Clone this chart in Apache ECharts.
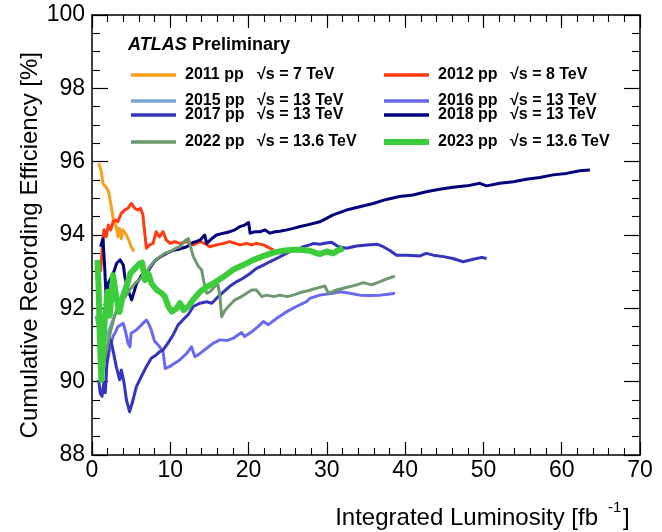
<!DOCTYPE html>
<html>
<head>
<meta charset="utf-8">
<script src="https://cdn.jsdelivr.net/npm/echarts@6/dist/echarts.min.js"></script>
<style>
  html, body { margin: 0; padding: 0; background: #fff; }
  #chart { width: 662px; height: 532px; }
</style>
</head>
<body>
<div id="chart"></div>
<script>
// Cumulative recording efficiency vs integrated luminosity, per data-taking year
const lumi2011 = [0.86,1.19,1.4,1.6,1.8,2.1,2.47,2.77,3.1,3.32,3.53,3.75,3.96,4.4,4.7,5.0,5.36];
const eff2011  = [95.96,95.73,95.4,95.45,95.3,95.2,94.77,94.36,94.23,93.95,94.18,93.9,94.14,94.0,93.86,93.68,93.55];

const lumi2012 = [1.1,1.3,1.53,1.8,2.1,2.4,2.68,2.98,3.3,3.74,4.17,4.6,5.02,5.45,5.85,6.2,6.5,6.94,7.37,7.8,8.2,8.6,9.07,9.5,10.0,10.56,11.2,12.1,12.94,13.8,14.4,15.07,15.9,16.77,17.6,18.3,18.9,19.76,20.4,21.0,21.9,22.7,23.2];
const eff2012  = [93.0,93.6,94.14,93.95,94.27,94.14,94.36,94.41,94.36,94.59,94.68,94.73,94.86,94.73,94.68,94.73,94.55,93.64,93.73,93.77,94.09,93.95,94.09,93.86,93.77,93.82,93.77,93.82,93.73,93.82,93.77,93.68,93.73,93.77,93.82,93.77,93.73,93.77,93.73,93.77,93.73,93.64,93.59];

const lumi2015 = [0.5,1.0,1.5,2.0,2.5,3.0,3.5,3.9];
const eff2015  = [91.8,91.3,91.0,91.3,91.6,91.85,92.1,92.2];

const lumi2016 = [1.9,2.26,2.68,3.0,3.32,3.7,4.0,4.3,4.6,4.85,5.0,5.66,6.1,6.5,6.94,7.2,7.57,8.0,8.65,9.07,9.36,9.9,10.56,11.2,11.84,12.1,12.7,13.15,13.8,14.65,15.5,16.35,17.2,18.0,19.1,19.5,20.4,21.2,21.9,22.5,23.6,24.9,26.1,27.4,27.8,29.1,30.8,31.7,32.95,34.2,35.5,36.8,37.6,38.7];
const eff2016  = [90.5,90.86,91.23,91.35,91.5,91.55,91.59,91.35,91.05,90.95,91.32,91.41,91.5,91.59,91.68,91.6,91.41,91.1,90.95,90.82,90.36,90.41,90.5,90.59,90.72,90.77,90.95,90.68,90.77,90.91,91.05,91.14,91.12,91.18,91.34,91.23,91.36,91.5,91.64,91.55,91.73,91.91,92.05,92.18,92.27,92.36,92.41,92.45,92.41,92.36,92.35,92.36,92.38,92.41];

const lumi2017 = [0.85,1.06,1.28,1.5,1.7,1.88,2.13,2.4,2.68,3.1,3.54,3.75,4.1,4.4,4.8,5.24,5.66,6.3,6.94,7.57,8.2,8.65,9.07,9.7,10.35,11.0,11.6,12.26,12.94,13.8,14.65,15.3,15.9,16.8,17.6,18.5,19.3,20.2,21.0,21.9,22.7,23.6,24.4,25.3,26.1,27.0,27.8,28.3,29.1,29.9,30.6,31.0,31.5,32.5,33.8,35.1,36.4,37.2,38.1,38.9,40.2,41.9,42.7,43.6,44.9,46.1,47.4,48.7,49.8,50.4];
const eff2017  = [90.05,89.68,89.6,89.96,89.7,90.41,91.05,91.14,90.86,90.41,90.05,90.32,89.96,89.5,89.18,89.5,89.86,90.14,90.41,90.64,90.73,90.82,90.86,91.05,91.27,91.55,91.68,91.82,92.05,92.14,92.18,92.14,92.27,92.45,92.6,92.73,92.82,92.95,93.09,93.18,93.27,93.36,93.45,93.55,93.59,93.68,93.73,93.77,93.75,93.78,93.8,93.75,93.68,93.64,93.7,93.73,93.75,93.68,93.57,93.45,93.45,93.43,93.5,93.45,93.41,93.36,93.27,93.34,93.39,93.36];

const lumi2018 = [1.1,1.4,1.6,1.8,2.1,2.5,2.8,3.15,3.6,4.0,4.2,4.6,5.07,5.7,6.35,7.0,7.4,8.05,8.7,9.5,10.4,11.24,12.1,12.94,13.8,14.4,14.65,15.3,15.9,16.8,17.6,18.26,18.9,19.5,20.0,20.2,20.8,21.5,22.1,22.7,23.4,24.0,24.9,25.7,26.6,27.4,29.1,30.8,32.5,34.2,35.9,37.6,39.3,41.0,42.7,44.4,46.1,47.9,49.55,50.4,52.1,53.8,55.5,57.2,58.9,60.6,62.3,63.6];
const eff2018  = [93.68,93.9,93.2,92.32,92.7,92.86,93.0,93.23,93.32,93.18,92.86,92.5,92.23,92.68,92.9,92.96,93.1,93.3,93.4,93.5,93.58,93.62,93.68,93.8,93.86,94.0,93.77,93.9,94.0,94.05,94.09,94.14,94.23,94.27,94.34,94.05,94.09,94.09,94.14,94.05,94.09,94.1,94.14,94.18,94.23,94.27,94.36,94.55,94.68,94.77,94.86,94.97,95.05,95.09,95.18,95.25,95.3,95.34,95.41,95.34,95.41,95.45,95.52,95.57,95.64,95.68,95.75,95.77];

const lumi2022 = [1.3,1.6,2.0,2.4,2.98,3.6,4.25,4.8,5.5,6.13,6.8,7.4,8.0,8.7,9.3,10.0,10.8,11.24,11.9,12.3,12.55,12.94,13.6,14.0,14.4,14.65,15.07,15.7,16.1,16.35,16.56,17.0,17.6,18.26,19.1,19.76,20.4,21.0,21.7,22.3,23.2,24.0,24.9,25.7,26.6,27.6,28.7,29.75,30.2,31.25,32.5,33.8,34.65,35.7,36.8,37.6,38.7];
const eff2022  = [90.2,90.6,91.0,91.4,91.86,92.2,92.32,92.5,92.68,92.8,92.95,93.14,93.3,93.41,93.5,93.55,93.65,93.68,93.85,93.9,93.95,93.41,93.14,93.05,92.6,92.41,92.45,92.6,92.64,92.32,91.77,91.95,92.09,92.23,92.32,92.41,92.5,92.5,92.32,92.36,92.32,92.36,92.32,92.36,92.43,92.48,92.55,92.61,92.41,92.5,92.57,92.64,92.7,92.64,92.73,92.8,92.88];

const lumi2023 = [0.7,0.85,1.0,1.19,1.4,1.6,2.0,2.26,2.7,3.1,3.5,3.9,4.4,4.9,5.5,6.13,6.4,6.77,7.2,7.6,8.26,8.9,9.3,9.75,10.2,10.8,11.24,11.7,12.3,12.9,13.8,14.65,15.5,16.8,18.0,19.3,20.6,21.9,23.2,24.4,25.7,26.6,27.8,28.5,29.1,30.0,30.8,31.4,32.1];
const eff2023  = [93.32,92.5,91.2,90.05,90.9,91.6,92.45,91.8,92.9,92.3,91.9,92.3,92.6,92.95,93.09,93.23,93.25,92.77,92.95,92.68,92.5,92.41,92.32,92.05,91.91,92.0,92.14,91.95,92.05,92.23,92.45,92.59,92.68,92.86,93.05,93.18,93.32,93.43,93.52,93.57,93.6,93.6,93.57,93.52,93.48,93.55,93.5,93.58,93.64];

// Legend text
const yearLabels   = ['2011 pp','2012 pp','2015 pp','2016 pp','2017 pp','2018 pp','2022 pp','2023 pp'];
const energyLabels = ['\u221As = 7 TeV','\u221As = 8 TeV','\u221As = 13 TeV','\u221As = 13 TeV','\u221As = 13 TeV','\u221As = 13 TeV','\u221As = 13.6 TeV','\u221As = 13.6 TeV'];

const xTicks = { min: 0, max: 70, interval: 10 };
const yTicks = { min: 88, max: 100, interval: 2 };

const FONT = '"Liberation Sans", Arial, Helvetica, sans-serif';

const runs = [
  { x: lumi2011, y: eff2011, color: '#f7a01c', width: 3 },
  { x: lumi2012, y: eff2012, color: '#ff3b10', width: 3 },
  { x: lumi2015, y: eff2015, color: '#79a7d3', width: 3 },
  { x: lumi2016, y: eff2016, color: '#6a6aee', width: 3 },
  { x: lumi2017, y: eff2017, color: '#3434bc', width: 3 },
  { x: lumi2018, y: eff2018, color: '#03037e', width: 3 },
  { x: lumi2022, y: eff2022, color: '#6d9a6d', width: 3 },
  { x: lumi2023, y: eff2023, color: '#3ccc3c', width: 6 }
];

const series = runs.map((r, i) => ({
  type: 'line',
  name: yearLabels[i],
  data: r.x.map((v, k) => [v, r.y[k]]),
  showSymbol: false,
  symbol: 'none',
  lineStyle: { color: r.color, width: r.width, join: 'round' },
  itemStyle: { color: r.color },
  z: 2 + i,
  silent: true
}));

// Legend block: two columns of sample lines with year and energy labels
const rowY = [75, 75, 101, 101, 115, 115, 142, 142];
const colLineX = [131, 384];
const colYearX = [185, 438];
const colEnergyX = [257, 510];
const legendGraphics = [];
runs.forEach((r, i) => {
  const c = i % 2;
  const y = rowY[i];
  legendGraphics.push({
    type: 'line',
    shape: { x1: colLineX[c], y1: y, x2: colLineX[c] + 45, y2: y },
    style: { stroke: r.color, lineWidth: i === 7 ? 6 : 3.5 },
    z: 20
  });
  legendGraphics.push({
    type: 'text', x: colYearX[c], y: y, z: 20,
    style: { text: yearLabels[i], font: 'bold 16px ' + FONT, fill: '#000', textVerticalAlign: 'middle' }
  });
  legendGraphics.push({
    type: 'text', x: colEnergyX[c], y: y, z: 20,
    style: { text: energyLabels[i], font: 'bold 16px ' + FONT, fill: '#000', textVerticalAlign: 'middle' }
  });
});

const chart = echarts.init(document.getElementById('chart'), null, { renderer: 'canvas' });

const axisLine = { show: true, onZero: false, lineStyle: { color: '#000', width: 1.5 } };

chart.setOption({
  animation: false,
  backgroundColor: '#fff',
  grid: { left: 92, right: 22, top: 15, bottom: 77, containLabel: false, show: false },
  xAxis: [
    {
      type: 'value', position: 'bottom', min: xTicks.min, max: xTicks.max, interval: xTicks.interval,
      axisLine: axisLine,
      axisTick: { show: true, inside: true, length: 13, lineStyle: { color: '#000', width: 1.2 } },
      minorTick: { show: true, splitNumber: 5, length: 7, lineStyle: { color: '#000', width: 1.1 } },
      splitLine: { show: false },
      axisLabel: { color: '#000', fontSize: 23, fontFamily: FONT, margin: 4 }
    },
    {
      type: 'value', position: 'top', min: xTicks.min, max: xTicks.max, interval: xTicks.interval,
      axisLine: axisLine,
      axisTick: { show: true, inside: true, length: 13, lineStyle: { color: '#000', width: 1.2 } },
      minorTick: { show: true, splitNumber: 5, length: 7, lineStyle: { color: '#000', width: 1.1 } },
      splitLine: { show: false },
      axisLabel: { show: false }
    }
  ],
  yAxis: [
    {
      type: 'value', position: 'left', min: yTicks.min, max: yTicks.max, interval: yTicks.interval,
      axisLine: axisLine,
      axisTick: { show: true, inside: true, length: 16, lineStyle: { color: '#000', width: 1.2 } },
      minorTick: { show: true, splitNumber: 4, length: 8, lineStyle: { color: '#000', width: 1.1 } },
      splitLine: { show: false },
      axisLabel: { color: '#000', fontSize: 23, fontFamily: FONT, margin: 7 }
    },
    {
      type: 'value', position: 'right', min: yTicks.min, max: yTicks.max, interval: yTicks.interval,
      axisLine: axisLine,
      axisTick: { show: true, inside: true, length: 16, lineStyle: { color: '#000', width: 1.2 } },
      minorTick: { show: true, splitNumber: 4, length: 8, lineStyle: { color: '#000', width: 1.1 } },
      splitLine: { show: false },
      axisLabel: { show: false }
    }
  ],
  series: series,
  graphic: [
    // y-axis title
    {
      type: 'text', x: 30, y: 52, rotation: Math.PI / 2,
      style: { text: 'Cumulative Recording Efficiency [%]', font: '24px ' + FONT, fill: '#000',
               textAlign: 'right', textVerticalAlign: 'middle' }
    },
    // x-axis title with superscript
    {
      type: 'text', x: 598, y: 518,
      style: { text: 'Integrated Luminosity [fb', font: '24px ' + FONT, fill: '#000',
               textAlign: 'right', textVerticalAlign: 'middle' }
    },
    {
      type: 'text', x: 608, y: 508,
      style: { text: '-1', font: '15px ' + FONT, fill: '#000', textAlign: 'left', textVerticalAlign: 'middle' }
    },
    {
      type: 'text', x: 623, y: 518,
      style: { text: ']', font: '24px ' + FONT, fill: '#000', textAlign: 'left', textVerticalAlign: 'middle' }
    },
    // experiment label
    {
      type: 'text', x: 128, y: 45,
      style: { text: 'ATLAS', font: 'italic bold 18px ' + FONT, fill: '#000', textVerticalAlign: 'middle' }
    },
    {
      type: 'text', x: 192, y: 45,
      style: { text: 'Preliminary', font: 'bold 18px ' + FONT, fill: '#000', textVerticalAlign: 'middle' }
    }
  ].concat(legendGraphics)
});
</script>
</body>
</html>
